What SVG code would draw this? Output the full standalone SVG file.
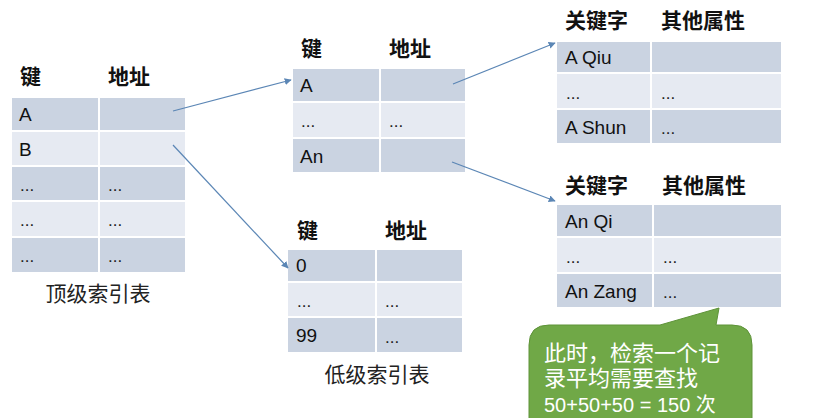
<svg xmlns="http://www.w3.org/2000/svg" width="829" height="418" viewBox="0 0 829 418">
<defs>
<style>
.d{fill:#cad3e1;stroke:#fff;stroke-width:2}
.l{fill:#e6eaf2;stroke:#fff;stroke-width:2}
.t{font-family:'Liberation Sans','Noto Sans CJK SC',sans-serif;font-size:19px;fill:#111}
.e{font-family:'Liberation Sans',sans-serif;font-size:17px;fill:#222}
.h{font-family:'Noto Sans CJK SC','Liberation Sans',sans-serif;font-size:21px;font-weight:bold;fill:#111}
.c{font-family:'Noto Sans CJK SC','Liberation Sans',sans-serif;font-size:21px;fill:#222}
.w{font-family:'Liberation Sans','Noto Sans CJK SC',sans-serif;font-size:22px;fill:#fff}
.wl{font-family:'Liberation Sans','Noto Sans CJK SC',sans-serif;font-size:20px;fill:#fff}
.a{stroke:#5b86b5;stroke-width:1.2;fill:none;marker-end:url(#ah)}
</style>
<marker id="ah" viewBox="0 0 10 10" refX="9" refY="5" markerWidth="7" markerHeight="7" orient="auto" markerUnits="userSpaceOnUse">
<path d="M0,0 L10,5 L0,10 z" fill="#5b86b5"/>
</marker>
</defs>
<rect width="829" height="418" fill="#fff"/>

<g id="top-index">
<text class="h" x="20" y="84">键</text>
<text class="h" x="108" y="84">地址</text>
<rect class="d" x="11" y="97" width="88" height="34"/><rect class="d" x="99" y="97" width="87" height="34"/>
<rect class="l" x="11" y="131" width="88" height="35"/><rect class="l" x="99" y="131" width="87" height="35"/>
<rect class="d" x="11" y="166" width="88" height="35"/><rect class="d" x="99" y="166" width="87" height="35"/>
<rect class="l" x="11" y="201" width="88" height="36"/><rect class="l" x="99" y="201" width="87" height="36"/>
<rect class="d" x="11" y="237" width="88" height="36"/><rect class="d" x="99" y="237" width="87" height="36"/>
<text class="t" x="19" y="121">A</text>
<text class="t" x="19" y="156">B</text>
<text class="e" x="20" y="191">...</text><text class="e" x="108" y="191">...</text>
<text class="e" x="20" y="226">...</text><text class="e" x="108" y="226">...</text>
<text class="e" x="20" y="262">...</text><text class="e" x="108" y="262">...</text>
<text class="c" x="98" y="301" text-anchor="middle">顶级索引表</text>
</g>

<g id="mid-index">
<text class="h" x="301" y="56">键</text>
<text class="h" x="389" y="56">地址</text>
<rect class="d" x="292" y="68" width="88" height="34"/><rect class="d" x="380" y="68" width="86" height="34"/>
<rect class="l" x="292" y="102" width="88" height="36"/><rect class="l" x="380" y="102" width="86" height="36"/>
<rect class="d" x="292" y="138" width="88" height="35"/><rect class="d" x="380" y="138" width="86" height="35"/>
<text class="t" x="300" y="92">A</text>
<text class="e" x="301" y="127">...</text><text class="e" x="389" y="127">...</text>
<text class="t" x="300" y="163">An</text>
</g>

<g id="low-index">
<text class="h" x="297" y="238">键</text>
<text class="h" x="385" y="238">地址</text>
<rect class="d" x="287" y="249" width="89" height="33"/><rect class="d" x="376" y="249" width="87" height="33"/>
<rect class="l" x="287" y="282" width="89" height="35"/><rect class="l" x="376" y="282" width="87" height="35"/>
<rect class="d" x="287" y="317" width="89" height="36"/><rect class="d" x="376" y="317" width="87" height="36"/>
<text class="t" x="296" y="272">0</text>
<text class="e" x="297" y="307">...</text><text class="e" x="385" y="307">...</text>
<text class="t" x="296" y="342">99</text><text class="e" x="385" y="343">...</text>
<text class="c" x="377" y="382" text-anchor="middle">低级索引表</text>
</g>

<g id="records-a">
<text class="h" x="565" y="28">关键字</text>
<text class="h" x="661" y="28">其他属性</text>
<rect class="d" x="556" y="41" width="95" height="32"/><rect class="d" x="651" y="41" width="131" height="32"/>
<rect class="l" x="556" y="73" width="95" height="36"/><rect class="l" x="651" y="73" width="131" height="36"/>
<rect class="d" x="556" y="109" width="95" height="35"/><rect class="d" x="651" y="109" width="131" height="35"/>
<text class="t" x="565" y="64">A Qiu</text>
<text class="e" x="566" y="99">...</text><text class="e" x="661" y="99">...</text>
<text class="t" x="565" y="134">A Shun</text><text class="e" x="661" y="134">...</text>
</g>

<g id="records-an">
<text class="h" x="565" y="193">关键字</text>
<text class="h" x="662" y="193">其他属性</text>
<rect class="d" x="556" y="204" width="97" height="33"/><rect class="d" x="653" y="204" width="129" height="33"/>
<rect class="l" x="556" y="237" width="97" height="36"/><rect class="l" x="653" y="237" width="129" height="36"/>
<rect class="d" x="556" y="273" width="97" height="35"/><rect class="d" x="653" y="273" width="129" height="35"/>
<text class="t" x="565" y="228">An Qi</text>
<text class="e" x="566" y="263">...</text><text class="e" x="663" y="263">...</text>
<text class="t" x="565" y="298">An Zang</text><text class="e" x="663" y="298">...</text>
</g>

<g id="connectors">
<line class="a" x1="173" y1="111" x2="291" y2="80"/>
<line class="a" x1="173" y1="145" x2="288" y2="268"/>
<line class="a" x1="453" y1="84" x2="555" y2="43"/>
<line class="a" x1="452" y1="162" x2="555" y2="201"/>
</g>

<g id="callout">
<path d="M549,325 L660,325 L719,308 L716,325 L732,325 Q752,325 752,345 L752,432 L529,432 L529,345 Q529,325 549,325 Z" fill="#70a847" stroke="#5e9339" stroke-width="1"/>
<text class="w" x="544" y="361">此时，检索一个记</text>
<text class="w" x="544" y="386">录平均需要查找</text>
<text class="wl" x="544" y="412">50+50+50 = 150 次</text>
</g>
</svg>
